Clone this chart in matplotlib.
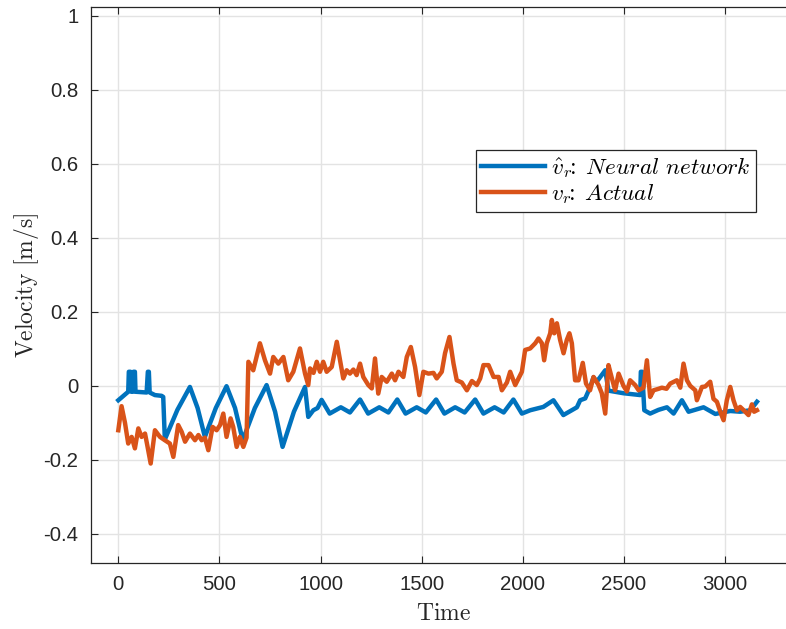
import matplotlib
matplotlib.use("Agg")
import matplotlib.pyplot as plt
from matplotlib.ticker import FuncFormatter

plt.rcParams['mathtext.fontset'] = 'cm'
plt.rcParams['axes.unicode_minus'] = False
plt.rcParams['font.family'] = ['Liberation Sans', 'DejaVu Sans']

# neural network estimate (blue)
nn_t = [0, 49, 52, 60, 64, 72, 75, 82, 85, 140, 146, 151, 155, 181, 214, 222, 230,
        292, 354, 392, 428, 482, 535, 577, 615, 675, 733, 775, 812, 868, 923, 939, 964,
        985, 1005, 1045, 1100, 1145, 1195, 1235, 1290, 1335, 1379, 1420, 1475, 1520,
        1571, 1612, 1665, 1712, 1764, 1805, 1860, 1905, 1953, 1995, 2036, 2101, 2151,
        2200, 2267, 2283, 2308, 2332, 2349, 2365, 2407, 2423, 2497, 2580, 2583, 2590,
        2600, 2629, 2670, 2712, 2745, 2786, 2819, 2893, 2951, 3025, 3074, 3124, 3157]
nn_v = [-0.039, -0.016, 0.038, 0.038, -0.016, -0.016, 0.038, 0.038, -0.016, -0.018,
        0.038, 0.038, -0.018, -0.025, -0.027, -0.03, -0.145,
        -0.065, -0.003, -0.06, -0.138, -0.06, -0.001, -0.06, -0.147, -0.06, 0.002,
        -0.07, -0.165, -0.07, -0.003, -0.084, -0.066,
        -0.06, -0.038, -0.075, -0.058, -0.072, -0.037, -0.075, -0.058, -0.072, -0.037,
        -0.075, -0.058, -0.072, -0.037, -0.075, -0.058, -0.072, -0.037, -0.075, -0.058,
        -0.072, -0.037, -0.075, -0.066, -0.057, -0.039,
        -0.079, -0.058, -0.039, -0.034, -0.004, 0.023, 0.011, 0.042, -0.013, -0.02,
        -0.025, 0.038, 0.038, -0.066, -0.075, -0.065, -0.058, -0.075, -0.039, -0.07,
        -0.058, -0.076, -0.068, -0.07, -0.066, -0.043]

# actual velocity (orange)
act_t = [0, 16, 33, 49, 66, 82, 99, 115, 132, 143, 160, 181, 206, 230, 255, 272, 296,
         313, 330, 354, 379, 396, 412, 428, 445, 466, 486, 503, 519, 535, 555, 568, 585,
         601, 618, 634, 643, 667, 700, 725, 750, 766, 791, 816, 840, 865, 898, 923, 939,
         948, 965, 981, 997, 1013, 1030, 1055, 1080, 1096, 1112, 1129, 1145, 1162, 1178,
         1195, 1211, 1236, 1253, 1269, 1285, 1302, 1327, 1352, 1368, 1385, 1409, 1426,
         1446, 1467, 1488, 1508, 1533, 1558, 1574, 1599, 1615, 1637, 1657, 1673, 1698,
         1723, 1748, 1772, 1789, 1805, 1830, 1855, 1880, 1896, 1921, 1937, 1962, 1995,
         2011, 2036, 2061, 2077, 2094, 2105, 2118, 2135, 2143, 2155, 2168, 2184, 2201,
         2217, 2230, 2242, 2258, 2275, 2296, 2312, 2332, 2349, 2374, 2390, 2407, 2423,
         2440, 2456, 2473, 2497, 2514, 2530, 2555, 2572, 2596, 2613, 2629, 2646, 2671,
         2687, 2710, 2728, 2761, 2778, 2794, 2811, 2827, 2852, 2860, 2885, 2901, 2926,
         2942, 2959, 2979, 2992, 3008, 3025, 3041, 3058, 3074, 3099, 3115, 3132, 3143,
         3157]
act_v = [-0.12, -0.055, -0.10, -0.156, -0.138, -0.169, -0.115, -0.138, -0.129, -0.16,
         -0.21, -0.12, -0.138, -0.147, -0.156, -0.192, -0.106,
         -0.124, -0.151, -0.129, -0.147, -0.133, -0.147, -0.14, -0.174, -0.111, -0.12,
         -0.106, -0.075, -0.138, -0.088, -0.111, -0.165,
         -0.138, -0.165, -0.14, 0.065, 0.042, 0.115, 0.069, 0.033, 0.078, 0.06, 0.078,
         0.015, 0.038, 0.101, 0.033, 0.002,
         0.047, 0.035, 0.065, 0.038, 0.065, 0.038, 0.051, 0.119, 0.069, 0.02, 0.042,
         0.033, 0.044, 0.029,
         0.06, 0.024, 0.002, -0.007, 0.074, -0.021, 0.024, 0.011, 0.033, 0.015, 0.038,
         0.024, 0.078,
         0.105, 0.051, -0.025, 0.038, 0.033, 0.035, 0.02, 0.038, 0.088, 0.132, 0.06,
         0.015, 0.009,
         -0.012, 0.013, 0.002, 0.02, 0.056, 0.056, 0.024, 0.024, -0.012, 0.009, 0.038,
         0.002, 0.038,
         0.097, 0.101, 0.115, 0.128, 0.115, 0.069, 0.115, 0.142, 0.178, 0.142, 0.169,
         0.124, 0.088,
         0.124, 0.142, 0.115, 0.015, 0.015, 0.062, 0.006, -0.012, 0.024, 0.002, -0.02,
         -0.075, 0.056,
         0.02, -0.012, 0.033, 0.0, -0.015, 0.015, 0.002, -0.012, -0.005, 0.069, -0.03,
         -0.012, -0.008,
         -0.005, -0.008, 0.006, 0.015, -0.005, 0.06, 0.015, 0.0, -0.012, -0.039, -0.003,
         -0.002, 0.011,
         -0.035, -0.043, -0.075, -0.093, -0.039, -0.003, -0.039, -0.066, -0.057, -0.07,
         -0.079, -0.05, -0.07,
         -0.066]

blue = '#0072BD'
orange = '#D95319'
axcol = '#262626'

fig = plt.figure(figsize=(7.86, 6.29), dpi=100)
ax = fig.add_axes([91 / 786, (629 - 562.7) / 629, (796 - 91) / 786, (562.7 - 7.3) / 629])

ax.plot(nn_t, nn_v, color=blue, lw=3.2, label=r'$\hat{v}_r\!\!:\;Neural\ network$')
ax.plot(act_t, act_v, color=orange, lw=3.2, label=r'$v_r\!\!:\;Actual$')

ax.set_xlim(-135, 3350)
ax.set_ylim(-0.478, 1.023)
ax.set_xticks([0, 500, 1000, 1500, 2000, 2500, 3000])
ax.set_yticks([-0.4, -0.2, 0, 0.2, 0.4, 0.6, 0.8, 1])
fmt = FuncFormatter(lambda v, p: '%g' % round(v, 3))
ax.xaxis.set_major_formatter(fmt)
ax.yaxis.set_major_formatter(fmt)

ax.grid(True, color='#e3e3e3', lw=1.0)
ax.set_axisbelow(True)
ax.tick_params(direction='in', length=5, width=0.8, colors=axcol, labelsize=14.7,
               top=True, right=True, pad=9)
for s in ax.spines.values():
    s.set_color(axcol)
    s.set_linewidth(0.9)

ax.set_xlabel(r'$\mathrm{Time}$', fontsize=17, color=axcol, labelpad=6)
ax.set_ylabel(r'$\mathrm{Velocity\ [m/s]}$', fontsize=17, color=axcol, labelpad=1.5)

leg = ax.legend(loc='upper left', bbox_to_anchor=(476 / 786, 1 - 150 / 629),
                bbox_transform=fig.transFigure, borderaxespad=0, fontsize=16.8,
                handlelength=2.75, handletextpad=0.25, labelspacing=0.1,
                fancybox=False, framealpha=1, edgecolor=axcol, borderpad=0.22)
leg.get_frame().set_linewidth(0.9)

fig.savefig('out.png', dpi=100)
